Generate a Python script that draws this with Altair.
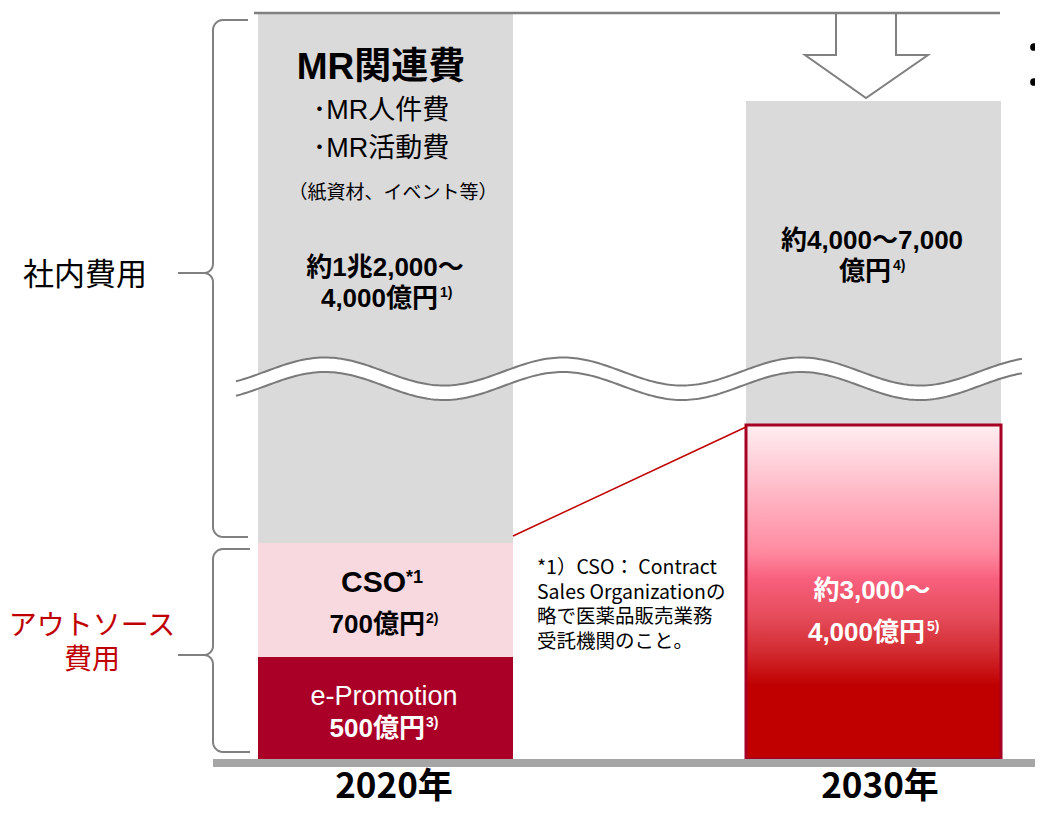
import altair as alt
import pandas as pd
import numpy as np

# ------------------------------------------------------------------ data
years = ["2020年", "2030年"]

# stacked segments (bottom -> top) on a broken (schematic) value axis
seg_year = ["2020年", "2020年", "2020年", "2030年", "2030年"]
seg_name = ["e-Promotion", "CSO", "MR関連費", "アウトソース", "MR関連費"]
seg_height = [102, 114, 530, 334, 324]

mr_2020_lines = ["MR関連費", "･MR人件費", "･MR活動費", "（紙資材、イベント等）"]
mr_2020_value = ["約1兆2,000～", "4,000億円", "1)"]
cso_value = ["CSO", "*1", "700億円", "2)"]
epromo_value = ["e-Promotion", "500億円", "3)"]
mr_2030_value = ["約4,000～7,000", "億円", "4)"]
out_2030_value = ["約3,000～", "4,000億円", "5)"]
footnote_lines = ["*1）CSO： Contract", "Sales Organizationの", "略で医薬品販売業務", "受託機関のこと。"]
group_inhouse = ["社内費用"]
group_outsource = ["アウトソース", "費用"]

# ------------------------------------------------------------------ layout
W, H = 1027, 798
BASE = 759                     # page y of the baseline


def V(py):                     # page y -> value above baseline
    return BASE - py


xs = alt.Scale(domain=[8, 8 + W], nice=False, zero=False)
ys = alt.Scale(domain=[BASE - 8 - H, BASE - 8], nice=False, zero=False)
X = lambda f="x": alt.X(f"{f}:Q", scale=xs, axis=None)
Y = lambda f="y": alt.Y(f"{f}:Q", scale=ys, axis=None)

JP = "Liberation Sans, Noto Sans CJK JP"
GRAY_BAR = "#dbdadb"
PINK = "#f8d9df"
CRIMSON = "#aa0028"
RED = "#c00000"
LINE_GRAY = "#808080"

bar_left = {"2020年": 258, "2030年": 746}
bar_w = 255

segs = pd.DataFrame({"year": seg_year, "name": seg_name, "h": seg_height})
segs["y1"] = segs.groupby("year")["h"].cumsum() - segs["h"]
segs["y2"] = segs["y1"] + segs["h"]
segs["x1"] = segs["year"].map(bar_left)
segs["x2"] = segs["x1"] + bar_w
segs["key"] = segs["year"] + "|" + segs["name"]

fill_map = {"2020年|e-Promotion": CRIMSON, "2020年|CSO": PINK,
            "2020年|MR関連費": GRAY_BAR, "2030年|MR関連費": GRAY_BAR}

plain = segs[segs["key"].isin(fill_map)].copy()
plain["fill"] = plain["key"].map(fill_map)
bars = alt.Chart(plain).mark_rect().encode(
    x=X("x1"), x2="x2:Q", y=Y("y1"), y2="y2:Q",
    fill=alt.Fill("fill:N", scale=None))

grad = alt.Gradient(
    gradient="linear", x1=0, x2=0, y1=0, y2=1,
    stops=[alt.GradientStop(color="#ffeef1", offset=0),
           alt.GradientStop(color="#ffb3c2", offset=0.22),
           alt.GradientStop(color="#ff8aa0", offset=0.38),
           alt.GradientStop(color="#f8607e", offset=0.46),
           alt.GradientStop(color="#e44a58", offset=0.58),
           alt.GradientStop(color="#d22a30", offset=0.68),
           alt.GradientStop(color="#c00000", offset=0.78),
           alt.GradientStop(color="#c00000", offset=1)])
outs = segs[segs["key"] == "2030年|アウトソース"]
out_box = alt.Chart(outs).mark_rect(fill=grad, stroke="#a50024", strokeWidth=3).encode(
    x=X("x1"), x2="x2:Q", y=Y("y1"), y2="y2:Q")

# baseline
base_df = pd.DataFrame({"x1": [213], "x2": [1043], "y1": [V(767)], "y2": [V(759)]})
baseline = alt.Chart(base_df).mark_rect(color="#a6a6a6").encode(
    x=X("x1"), x2="x2:Q", y=Y("y1"), y2="y2:Q")

# wavy break symbol
wx = np.linspace(236, 1022, 300)
wu = 371.5 - 14.0 * np.cos(2 * np.pi * (wx - 325) / 238)
wave = pd.DataFrame({"x": wx, "yu": V(wu), "yl": V(wu + 14.5)})
wave_fill = alt.Chart(wave).mark_area(color="white", opacity=1).encode(
    x=X("x"), y=Y("yu"), y2="yl:Q")
wave_up = alt.Chart(wave).mark_line(color="#7a7a7a", strokeWidth=2).encode(x=X("x"), y=Y("yu"))
wave_lo = alt.Chart(wave).mark_line(color="#7a7a7a", strokeWidth=2).encode(x=X("x"), y=Y("yl"))


# curly braces
def arc(cx, cy, r, a0, a1, n=8):
    t = np.linspace(a0, a1, n)
    return list(zip(cx + r * np.cos(t), cy + r * np.sin(t)))


def brace(g, xv, ytop, ybot, ymid, xarm, r=10, rc=9):
    pts = [(xarm, ytop)]
    pts += arc(xv + r, ytop + r, r, -np.pi / 2, -np.pi)          # top corner
    pts += [(xv, ymid - rc)]
    pts += arc(xv - rc, ymid - rc, rc, 0, np.pi / 2)              # into cusp
    pts += arc(xv - rc, ymid + rc, rc, -np.pi / 2, 0)             # out of cusp
    pts += [(xv, ybot - r)]
    pts += arc(xv + r, ybot - r, r, np.pi, np.pi / 2)             # bottom corner
    pts += [(xarm, ybot)]
    return pd.DataFrame({"g": g, "i": range(len(pts)),
                         "x": [p[0] for p in pts], "y": [V(p[1]) for p in pts]})


br = pd.concat([
    brace("a", 213, 20, 537, 273, 248),
    brace("b", 213, 549, 752, 655, 250),
    pd.DataFrame({"g": "c", "i": [0, 1], "x": [178, 204], "y": [V(273), V(273)]}),
    pd.DataFrame({"g": "d", "i": [0, 1], "x": [178, 204], "y": [V(655), V(655)]}),
])
braces = alt.Chart(br).mark_line(color=LINE_GRAY, strokeWidth=2).encode(
    x=X("x"), y=Y("y"), order="i:Q", detail="g:N")

# top line + down arrow
top_df = pd.DataFrame({"g": "t", "i": [0, 1], "x": [254, 1000], "y": [V(13), V(13)]})
arrow_x = [836, 836, 805, 866, 928, 896, 896]
arrow_y = [13, 55, 55, 98, 55, 55, 13]
arr_df = pd.DataFrame({"g": "a", "i": range(7), "x": arrow_x, "y": [V(v) for v in arrow_y]})
top_line = alt.Chart(top_df).mark_line(color=LINE_GRAY, strokeWidth=2.5).encode(
    x=X("x"), y=Y("y"), order="i:Q")
arrow = alt.Chart(arr_df).mark_line(color=LINE_GRAY, strokeWidth=2).encode(
    x=X("x"), y=Y("y"), order="i:Q")

# connector line
con_df = pd.DataFrame({"i": [0, 1], "x": [513, 746], "y": [V(536), V(427)]})
connector = alt.Chart(con_df).mark_line(color=RED, strokeWidth=1.5).encode(
    x=X("x"), y=Y("y"), order="i:Q")

# bullets cut at the right edge
dots_df = pd.DataFrame({"x": [1034, 1034], "y": [V(47), V(82)]})
dots = alt.Chart(dots_df).mark_circle(color="black", size=60, opacity=1).encode(x=X("x"), y=Y("y"))


# texts
def txt(rows, size, weight="normal", color="black", align="center", font=JP):
    df = pd.DataFrame(rows, columns=["t", "x", "py"])
    df["y"] = V(df["py"])
    return alt.Chart(df).mark_text(font=font, fontSize=size, fontWeight=weight, color=color,
                                   align=align, baseline="middle").encode(
        x=X("x"), y=Y("y"), text="t:N")


texts = [
    txt([(mr_2020_lines[0], 381, 68)], 37, "bold"),
    txt([(mr_2020_lines[1], 381, 111), (mr_2020_lines[2], 381, 149)], 27),
    txt([(mr_2020_lines[3], 393, 193)], 19),
    txt([(mr_2020_value[0], 385, 268), (mr_2030_value[0], 872, 241)], 26, "bold"),
    txt([(mr_2020_value[1], 438, 299), (cso_value[2], 425, 625), (mr_2030_value[1], 891, 272)],
        26, "bold", align="right"),
    txt([(mr_2020_value[2], 440, 293), (cso_value[3], 426, 619), (mr_2030_value[2], 893, 266)],
        14, "bold", align="left"),
    txt([(cso_value[0], 406, 583)], 30, "bold", align="right"),
    txt([(cso_value[1], 406, 578)], 18, "bold", align="left"),
    txt([(epromo_value[0], 384, 697)], 27, color="white"),
    txt([(epromo_value[1], 425, 729), (out_2030_value[1], 925, 633)], 26, "bold", "white", "right"),
    txt([(epromo_value[2], 426, 723), (out_2030_value[2], 927, 627)], 14, "bold", "white", "left"),
    txt([(out_2030_value[0], 872, 591)], 26, "bold", "white"),
    txt([(s, 537, 568 + 24.5 * k) for k, s in enumerate(footnote_lines)], 19.5, align="left",
        font="Noto Sans CJK JP"),
    txt([(group_inhouse[0], 85, 276)], 31, font="Noto Sans CJK JP"),
    txt([(group_outsource[0], 92, 627), (group_outsource[1], 92, 661)], 28, color=RED,
        font="Noto Sans CJK JP"),
    txt([(years[0], 394, 787), (years[1], 880, 787)], 35, "bold",
        font="Liberation Sans Narrow, Noto Sans CJK JP"),
]

chart = alt.layer(
    bars, out_box, wave_fill, wave_up, wave_lo, braces, top_line, arrow, connector,
    baseline, dots, *texts
).properties(
    width=W, height=H, padding=0, background="white",
    autosize=alt.AutoSizeParams(type="none")
).configure_view(strokeWidth=0)

chart.save("out.html", embed_options={"renderer": "svg", "actions": False})
